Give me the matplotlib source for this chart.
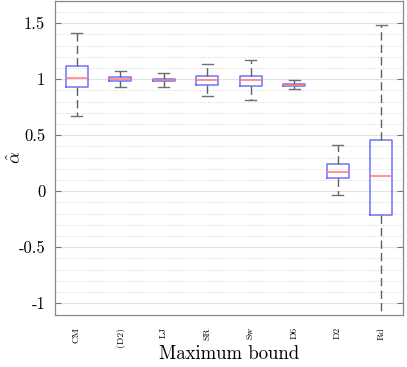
import matplotlib
matplotlib.use("Agg")
import matplotlib.pyplot as plt
import numpy as np

categories = ["CM", "(D2)", "LJ", "SR", "Sw", "D6", "D2", "Rd"]
whisker_low = [0.67, 0.93, 0.93, 0.85, 0.81, 0.91, -0.03, -1.30]
q1 = [0.93, 0.98, 0.98, 0.95, 0.94, 0.94, 0.12, -0.21]
median = [1.01, 1.00, 0.99, 0.99, 0.99, 0.95, 0.175, 0.14]
q3 = [1.115, 1.015, 1.005, 1.03, 1.03, 0.96, 0.245, 0.46]
whisker_high = [1.41, 1.07, 1.055, 1.135, 1.17, 0.99, 0.415, 1.48]
yticks = [-1, -0.5, 0, 0.5, 1, 1.5]
ytick_labels = ["-1", "-0.5", "0", "0.5", "1", "1.5"]

plt.rcParams['font.family'] = ['cmr10', 'DejaVu Serif']
plt.rcParams['mathtext.fontset'] = 'cm'

fig = plt.figure(figsize=(4.07, 3.67), dpi=100)
ax = fig.add_axes([0.135, 0.143, 0.855, 0.855])

stats = []
for i, c in enumerate(categories):
    stats.append(dict(label=c, whislo=whisker_low[i], q1=q1[i], med=median[i],
                      q3=q3[i], whishi=whisker_high[i], fliers=[]))

ax.bxp(stats, positions=np.arange(1, len(categories) + 1), widths=0.5,
       showfliers=False,
       boxprops=dict(color='#7070ff', linewidth=1.1),
       medianprops=dict(color='#ff7878', linewidth=1.1),
       whiskerprops=dict(color='#606060', linewidth=1.0, linestyle=(0, (6, 3))),
       capprops=dict(color='#707070', linewidth=1.0),
       capwidths=0.25)

ax.set_xlim(0.5, len(categories) + 0.5)
ax.set_ylim(-1.1, 1.7)
ax.set_yticks(yticks)
ax.set_yticklabels(ytick_labels, fontsize=12)
ax.set_yticks(np.arange(-1.1, 1.71, 0.1), minor=True)
ax.set_xticks(np.arange(1, len(categories) + 1))
ax.set_xticklabels(categories, rotation=90, fontsize=7)

ax.grid(True, which='major', axis='y', color='#e2e2e2', linewidth=0.8, linestyle='-')
ax.grid(True, which='minor', axis='y', color='#c8c8c8', linewidth=0.6, linestyle=(0, (1, 2)))
ax.set_axisbelow(True)

ax.tick_params(axis='y', which='major', direction='in', right=True, length=4, color='#777777', pad=7)
ax.tick_params(axis='y', which='minor', length=0)
ax.tick_params(axis='x', which='major', length=0, pad=9)
for s in ax.spines.values():
    s.set_color('#888888')
    s.set_linewidth(0.9)

ax.set_xlabel("Maximum bound", fontsize=13.5)
ax.xaxis.set_label_coords(0.5, -0.098)
ax.set_ylabel(r"$\hat{\alpha}$", fontsize=13)
ax.yaxis.set_label_coords(-0.09, 0.5)

fig.savefig("out.png", dpi=100)
